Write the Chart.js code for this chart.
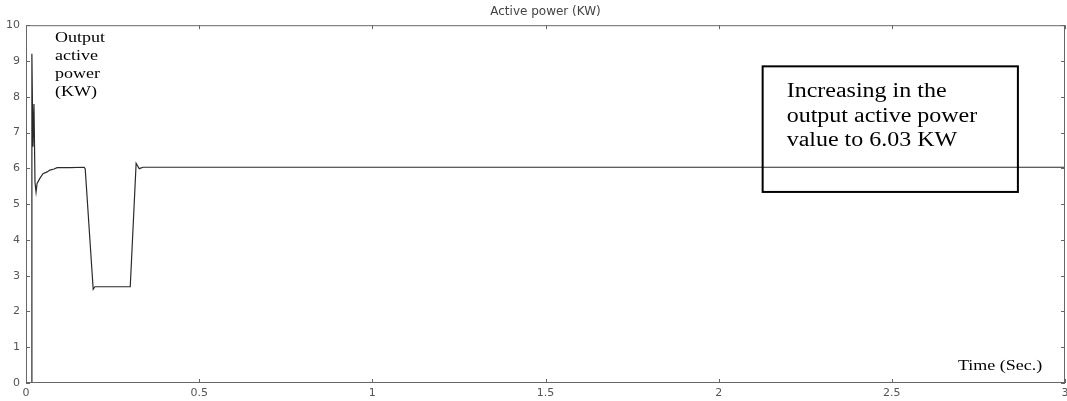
<!DOCTYPE html>
<html>
<head>
<meta charset="utf-8">
<script src="https://cdn.jsdelivr.net/npm/chart.js@4"></script>
<style>
  html, body { margin: 0; padding: 0; background: #fff; }
  #wrap { width: 1067px; height: 401px; }
</style>
</head>
<body>
<div id="wrap"><canvas id="powerChart"></canvas></div>
<script>
// time (s) and active power (KW)
const timeSec = [0, 0.0145, 0.017, 0.020, 0.023, 0.026, 0.029, 0.032, 0.040, 0.049, 0.061, 0.069, 0.081, 0.090, 0.127, 0.168, 0.171, 0.194, 0.199, 0.301, 0.318, 0.327, 0.338, 3.0];
const powerKW = [0, 0, 9.2, 6.6, 7.8, 5.6, 5.34, 5.58, 5.72, 5.85, 5.90, 5.95, 5.98, 6.02, 6.02, 6.03, 5.98, 2.62, 2.69, 2.69, 6.14, 5.99, 6.03, 6.03];

const xTicks = [0, 0.5, 1, 1.5, 2, 2.5, 3];
const yTicks = [0, 1, 2, 3, 4, 5, 6, 7, 8, 9, 10];

const chartTitle = "Active power (KW)";
const yNote = ["Output", "active", "power", "(KW)"];
const boxNote = ["Increasing in the", "output active power", "value to 6.03 KW"];
const xNote = "Time (Sec.)";

// the source image is stretched sideways, so notes are drawn wider than tall
function wideText(ctx, text, x, y, font) {
  ctx.save();
  ctx.font = font;
  ctx.translate(x, y);
  ctx.scale(1.2, 1);
  ctx.fillText(text, 0, 0);
  ctx.restore();
}

const framePlugin = {
  id: "frame",
  afterDraw(chart) {
    const { ctx, chartArea: a, scales } = chart;
    const x = scales.x, y = scales.y;
    ctx.save();
    ctx.strokeStyle = "#666";
    ctx.lineWidth = 1;
    ctx.strokeRect(a.left + 0.5, a.top + 0.5, a.right - a.left - 1, a.bottom - a.top - 1);
    ctx.beginPath();
    xTicks.forEach((v) => {
      const px = Math.round(x.getPixelForValue(v)) + 0.5;
      ctx.moveTo(px, a.bottom); ctx.lineTo(px, a.bottom - 4);
      ctx.moveTo(px, a.top); ctx.lineTo(px, a.top + 4);
    });
    yTicks.forEach((v) => {
      const py = Math.round(y.getPixelForValue(v)) + 0.5;
      ctx.moveTo(a.left, py); ctx.lineTo(a.left + 4, py);
      ctx.moveTo(a.right, py); ctx.lineTo(a.right - 4, py);
    });
    ctx.stroke();

    // text notes
    ctx.fillStyle = "#000";
    ctx.textBaseline = "alphabetic";
    yNote.forEach((t, i) => wideText(ctx, t, 55, 42 + i * 18, '15px "Liberation Serif"'));
    wideText(ctx, xNote, 958, 370, '15px "Liberation Serif"');

    // annotation box positioned on the scales
    const bx0 = x.getPixelForValue(2.127), bx1 = x.getPixelForValue(2.864);
    const by0 = y.getPixelForValue(8.85), by1 = y.getPixelForValue(5.34);
    ctx.strokeStyle = "#000";
    ctx.lineWidth = 2;
    ctx.strokeRect(bx0, by0, bx1 - bx0, by1 - by0);
    boxNote.forEach((t, i) => wideText(ctx, t, bx0 + 24, by0 + 31 + i * 24.5, '20px "Liberation Serif"'));
    ctx.restore();
  },
};

const ctx = document.getElementById("powerChart").getContext("2d");
new Chart(ctx, {
  type: "line",
  data: {
    datasets: [
      {
        label: "Active power",
        data: timeSec.map((t, i) => ({ x: t, y: powerKW[i] })),
        borderColor: "#2a2a2a",
        borderWidth: 1.2,
        pointRadius: 0,
        tension: 0,
        fill: false,
      },
    ],
  },
  options: {
    responsive: true,
    maintainAspectRatio: false,
    animation: false,
    layout: { padding: { left: 0, right: 2, top: 0, bottom: 0 } },
    plugins: {
      legend: { display: false },
      tooltip: { enabled: false },
      title: {
        display: true,
        fullSize: false,
        text: chartTitle,
        color: "#444",
        font: { family: "DejaVu Sans", size: 12, weight: "normal", lineHeight: 1.1 },
        padding: { top: 5, bottom: 7 },
      },
    },
    scales: {
      x: {
        type: "linear",
        min: 0,
        max: 3,
        afterBuildTicks: (s) => { s.ticks = xTicks.map((v) => ({ value: v })); },
        afterFit: (s) => { s.height = 18; s.paddingLeft = 0; s.paddingRight = 0; },
        grid: { display: false, drawTicks: false },
        border: { display: false },
        ticks: {
          color: "#555",
          padding: 4,
          maxRotation: 0,
          font: { family: "DejaVu Sans", size: 11 },
          callback: (v) => String(v),
        },
      },
      y: {
        min: 0,
        max: 10,
        afterBuildTicks: (s) => { s.ticks = yTicks.map((v) => ({ value: v })); },
        afterFit: (s) => { s.width = 26; s.paddingTop = 0; s.paddingBottom = 0; },
        grid: { display: false, drawTicks: false },
        border: { display: false },
        ticks: {
          color: "#555",
          padding: 6,
          font: { family: "DejaVu Sans", size: 11 },
        },
      },
    },
  },
  plugins: [framePlugin],
});
</script>
</body>
</html>
